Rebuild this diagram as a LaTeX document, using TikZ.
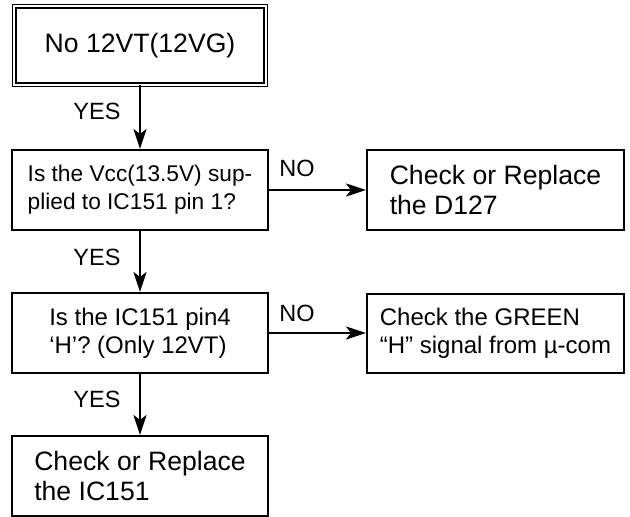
\documentclass[tikz,border=0pt]{standalone}
\usepackage{fontspec}
\setmainfont{Liberation Sans}
\usepackage{tikz}
\usetikzlibrary{arrows.meta,positioning}

\begin{document}
\begin{tikzpicture}[x=1pt,y=-1pt,
    box/.style={draw,line width=2pt,minimum width=256pt,minimum height=80pt,
        align=left,inner sep=0pt,font=\fontsize{26.6}{30}\selectfont},
    flow/.style={line width=2.5pt,-{Stealth[length=20pt,width=13pt,inset=5pt]}},
    answer/.style={inner sep=0pt,font=\fontsize{23.5}{28}\selectfont}]
    \useasboundingbox (0,0) rectangle (630,517);

    % start box, double frame
    \node[box,double,line width=1.3pt,double distance=2pt,
        minimum width=251.4pt,minimum height=78.4pt] (start) at (140,45.5) {No 12VT(12VG)};

    % left column: questions and last check
    \node[box,font=\fontsize{22.7}{28}\selectfont] (vcc) at (140,190)
        {Is the Vcc(13.5V) sup-\\plied to IC151 pin 1?};
    \node[box,font=\fontsize{24}{28}\selectfont] (pinfour) at (140,333)
        {Is the IC151 pin4\\‘H’? (Only 12VT)};
    \node[box] (fixic) at (140,476) {Check or Replace\\the IC151};

    % right column: NO branches
    \node[box,minimum width=257pt] (fixdiode) at (495.5,190) {Check or Replace\\the D127};
    \node[box,minimum width=257pt,minimum height=79pt,font=\fontsize{24}{28}\selectfont]
        (green) at (495.5,333) {Check the GREEN\\“H” signal from µ-com};

    % connectors
    \draw[flow] (start.south) -- (vcc.north);
    \draw[flow] (vcc.south) -- (pinfour.north);
    \draw[flow] (pinfour.south) -- (fixic.north);
    \draw[flow] (vcc.east) -- (fixdiode.west);
    \draw[flow] (pinfour.east) -- (green.west);

    % answers
    \node[answer] (yesa) at (97,111.5) {YES};
    \node[answer] (yesb) at (97,257) {YES};
    \node[answer] (yesc) at (97,399) {YES};
    \node[answer] (noa) at (297,168.5) {NO};
    \node[answer] (nob) at (297,313.5) {NO};
\end{tikzpicture}
\end{document}
